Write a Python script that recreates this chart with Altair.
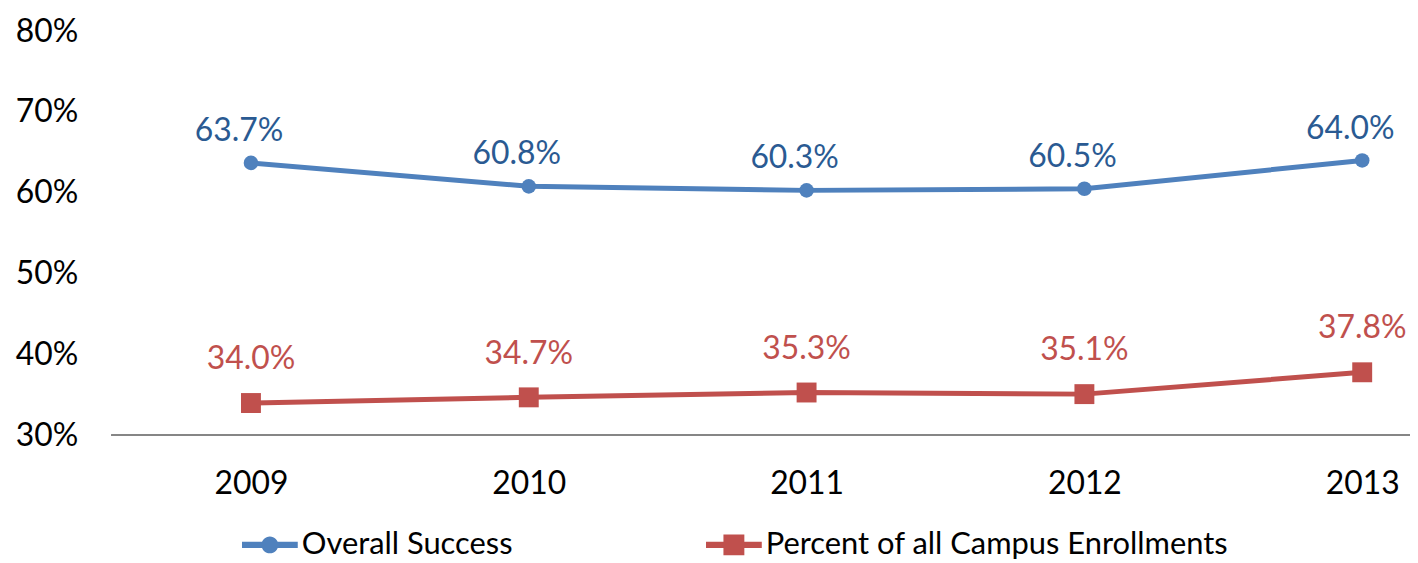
import altair as alt
import pandas as pd

years = ["2009", "2010", "2011", "2012", "2013"]
overall_success = [63.7, 60.8, 60.3, 60.5, 64.0]
campus_enrollments = [34.0, 34.7, 35.3, 35.1, 37.8]
series_names = ["Overall Success", "Percent of all Campus Enrollments"]
y_ticks = [0.3, 0.4, 0.5, 0.6, 0.7, 0.8]

rows = []
for y, v in zip(years, overall_success):
    rows.append({"year": y, "value": v / 100, "series": series_names[0]})
for y, v in zip(years, campus_enrollments):
    rows.append({"year": y, "value": v / 100, "series": series_names[1]})
df = pd.DataFrame(rows)

FONT = "Lato"
FS = 32
BLUE = "#4F81BD"
RED = "#C0504D"
BLUE_TXT = "#2A5A92"
RED_TXT = "#C0504D"

blue_path = "M-1,-0.11H1V0.11H-1Z M0.3,0A0.3,0.3 0 1,1 -0.3,0A0.3,0.3 0 1,1 0.3,0Z"
red_path = "M-1,-0.11H1V0.11H-1Z M-0.375,-0.375H0.375V0.375H-0.375Z"

x_enc = alt.X(
    "year:O",
    sort=years,
    scale=alt.Scale(type="point", range=[140, 1256], padding=0),
    axis=alt.Axis(
        title=None, labelAngle=0, ticks=False, domain=False,
        labelFont=FONT, labelFontSize=FS, labelColor="black",
        labelPadding=33, grid=False,
    ),
)
y_enc = alt.Y(
    "value:Q",
    scale=alt.Scale(domain=[0.3, 0.8], nice=False, zero=False),
    axis=alt.Axis(
        title=None, values=y_ticks, format=".0%", ticks=False, domain=False,
        grid=False, labelFont=FONT, labelFontSize=FS, labelColor="black",
        labelPadding=34,
    ),
)
legend = alt.Legend(
    title=None, orient="none", legendX=131, legendY=488, direction="horizontal",
    labelFont=FONT, labelFontSize=31, labelColor="black", labelOffset=4,
    labelLimit=800, columnPadding=194, padding=0, symbolSize=3136,
    symbolStrokeWidth=0, symbolOpacity=1,
)
color_enc = alt.Color(
    "series:N",
    scale=alt.Scale(domain=series_names, range=[BLUE, RED]),
    legend=legend,
)
shape_enc = alt.Shape(
    "series:N",
    scale=alt.Scale(domain=series_names, range=[blue_path, red_path]),
    legend=legend,
)

base = alt.Chart(df).encode(x=x_enc, y=y_enc)

legend_layer = base.mark_point(filled=True, opacity=0, size=10).encode(
    color=color_enc, shape=shape_enc
)

baseline = alt.Chart(df).mark_rule(color="#868686", strokeWidth=1.5).encode(
    y=alt.datum(y_ticks[0]), x=alt.value(0), x2=alt.value(1306)
)

lines = base.mark_line(strokeWidth=5).encode(color=alt.Color("series:N", legend=None))

pts_blue = base.transform_filter(alt.datum.series == series_names[0]).mark_point(
    shape="circle", filled=True, size=215, opacity=1, color=BLUE
)
pts_red = base.transform_filter(alt.datum.series == series_names[1]).mark_point(
    shape="square", filled=True, size=400, opacity=1, color=RED
)

txt_blue = base.transform_filter(alt.datum.series == series_names[0]).mark_text(
    font=FONT, fontSize=FS, color=BLUE_TXT, dy=-32, dx=-12, baseline="middle"
).encode(text=alt.Text("value:Q", format=".1%"))
txt_red = base.transform_filter(alt.datum.series == series_names[1]).mark_text(
    font=FONT, fontSize=FS, color=RED_TXT, dy=-44, baseline="middle"
).encode(text=alt.Text("value:Q", format=".1%"))

chart = (
    alt.layer(legend_layer, baseline, lines, pts_blue, pts_red, txt_blue, txt_red)
    .properties(
        width=1304, height=406, autosize="none",
        padding={"left": 104, "top": 22, "right": 0, "bottom": 127},
    )
    .configure_view(stroke=None)
)

chart.save("out.html", embed_options={"renderer": "svg", "actions": False})
